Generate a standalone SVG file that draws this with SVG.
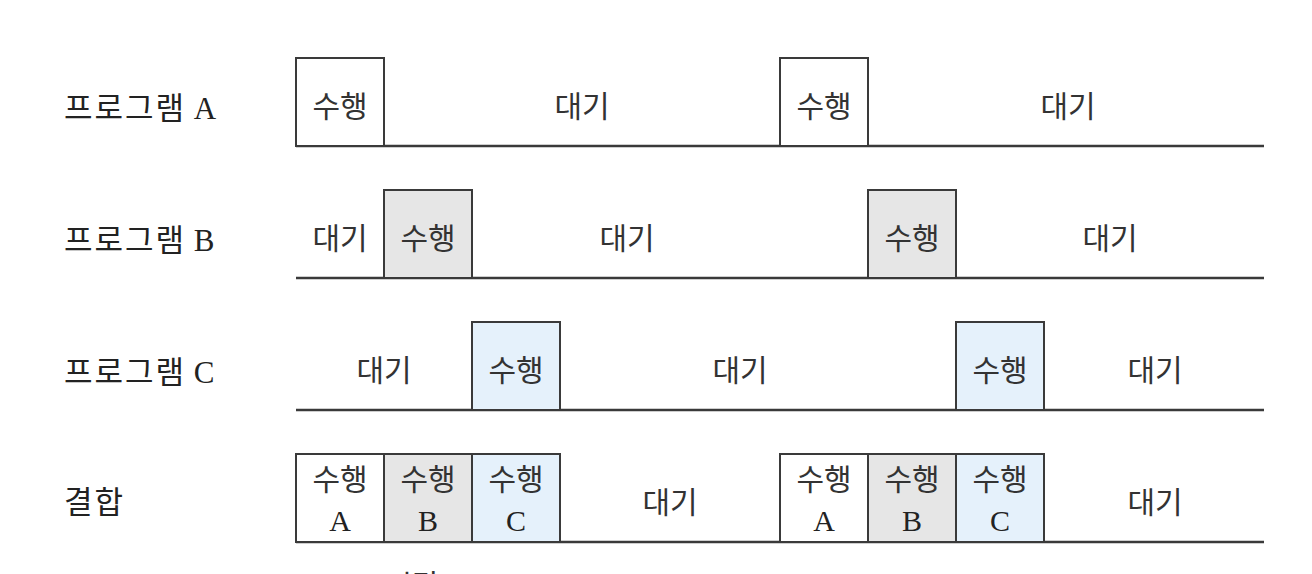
<svg xmlns="http://www.w3.org/2000/svg" width="1312" height="574" viewBox="0 0 1312 574">
<style>
.bg{fill:#ffffff}
.line{stroke:#3a3a3a;stroke-width:2.5;fill:none}
.box{stroke:#3a3a3a;stroke-width:2;}
.w{fill:#ffffff}
.g{fill:#e6e6e6}
.b{fill:#e5f1fb}
.t{font-family:"Noto Sans CJK KR",sans-serif;font-size:30px;fill:#333;text-anchor:middle}
.lbl{font-family:"Liberation Serif","Noto Sans CJK KR",serif;font-size:31px;fill:#222}
.k{font-family:"Noto Sans CJK KR",sans-serif;letter-spacing:2px}
.s{font-family:"Liberation Serif",serif;font-size:30px;fill:#222;text-anchor:middle}
</style>
<rect class="bg" x="0" y="0" width="1312" height="574"/>
<g id="labels">
<text class="lbl" x="64" y="119"><tspan class="k">프로그램</tspan> A</text>
<text class="lbl" x="64" y="251"><tspan class="k">프로그램</tspan> B</text>
<text class="lbl" x="64" y="383"><tspan class="k">프로그램</tspan> C</text>
<text class="lbl" x="64" y="513"><tspan class="k">결합</tspan></text>
</g>
<g id="connectors">
<line class="line" x1="296" y1="146" x2="1264" y2="146"/>
<line class="line" x1="296" y1="278" x2="1264" y2="278"/>
<line class="line" x1="296" y1="410" x2="1264" y2="410"/>
<line class="line" x1="296" y1="542" x2="1264" y2="542"/>
</g>
<g id="rowA">
<rect class="box w" x="296" y="58" width="88" height="88"/>
<text class="t" x="340" y="117">수행</text>
<text class="t" x="582" y="117">대기</text>
<rect class="box w" x="780" y="58" width="88" height="88"/>
<text class="t" x="824" y="117">수행</text>
<text class="t" x="1068" y="117">대기</text>
</g>
<g id="rowB">
<text class="t" x="340" y="249">대기</text>
<rect class="box g" x="384" y="190" width="88" height="88"/>
<text class="t" x="428" y="249">수행</text>
<text class="t" x="627" y="249">대기</text>
<rect class="box g" x="868" y="190" width="88" height="88"/>
<text class="t" x="912" y="249">수행</text>
<text class="t" x="1110" y="249">대기</text>
</g>
<g id="rowC">
<text class="t" x="384" y="381">대기</text>
<rect class="box b" x="472" y="322" width="88" height="88"/>
<text class="t" x="516" y="381">수행</text>
<text class="t" x="740" y="381">대기</text>
<rect class="box b" x="956" y="322" width="88" height="88"/>
<text class="t" x="1000" y="381">수행</text>
<text class="t" x="1155" y="381">대기</text>
</g>
<g id="rowCombined">
<rect class="box w" x="296" y="454" width="88" height="88"/>
<text class="t" x="340" y="490">수행</text>
<text class="s" x="340" y="531">A</text>
<rect class="box g" x="384" y="454" width="88" height="88"/>
<text class="t" x="428" y="490">수행</text>
<text class="s" x="428" y="531">B</text>
<rect class="box b" x="472" y="454" width="88" height="88"/>
<text class="t" x="516" y="490">수행</text>
<text class="s" x="516" y="531">C</text>
<text class="t" x="670" y="513">대기</text>
<rect class="box w" x="780" y="454" width="88" height="88"/>
<text class="t" x="824" y="490">수행</text>
<text class="s" x="824" y="531">A</text>
<rect class="box g" x="868" y="454" width="88" height="88"/>
<text class="t" x="912" y="490">수행</text>
<text class="s" x="912" y="531">B</text>
<rect class="box b" x="956" y="454" width="88" height="88"/>
<text class="t" x="1000" y="490">수행</text>
<text class="s" x="1000" y="531">C</text>
<text class="t" x="1155" y="513">대기</text>
</g>
<g id="axis">
<text class="t" x="412" y="596">시간</text>
</g>
</svg>
